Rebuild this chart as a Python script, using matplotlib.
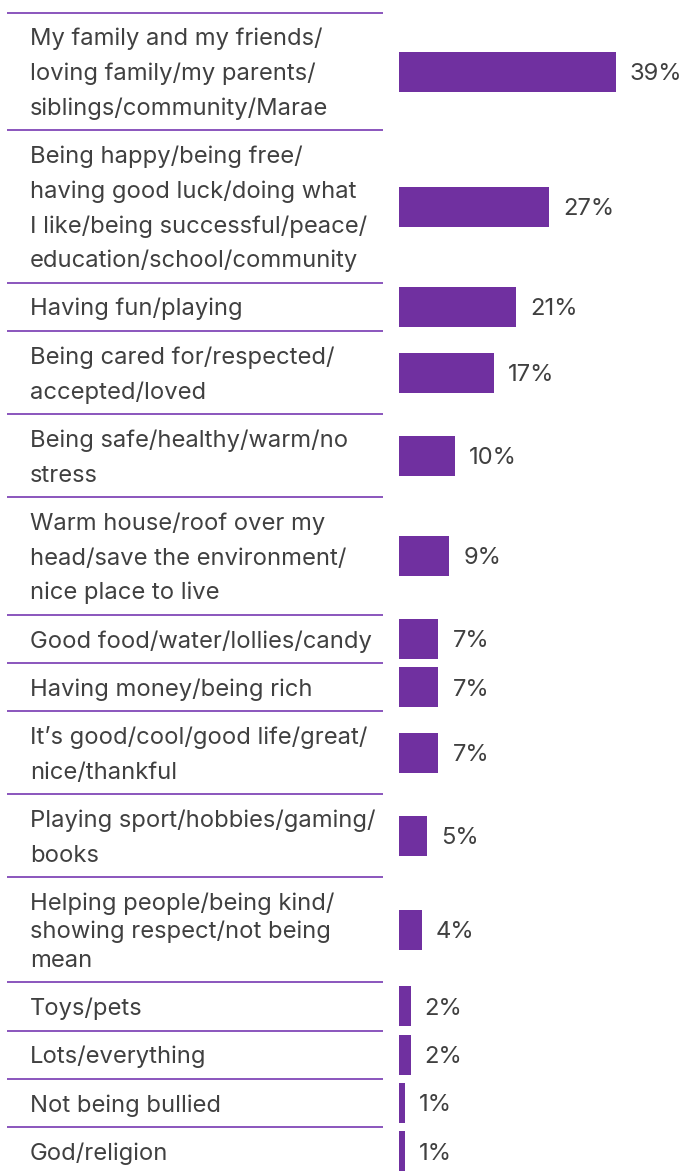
import matplotlib
matplotlib.use('Agg')
import matplotlib.pyplot as plt

labels = [
    "My family and my friends/\nloving family/my parents/\nsiblings/community/Marae",
    "Being happy/being free/\nhaving good luck/doing what\nI like/being successful/peace/\neducation/school/community",
    "Having fun/playing",
    "Being cared for/respected/\naccepted/loved",
    "Being safe/healthy/warm/no\nstress",
    "Warm house/roof over my\nhead/save the environment/\nnice place to live",
    "Good food/water/lollies/candy",
    "Having money/being rich",
    "It\u2019s good/cool/good life/great/\nnice/thankful",
    "Playing sport/hobbies/gaming/\nbooks",
    "Helping people/being kind/\nshowing respect/not being\nmean",
    "Toys/pets",
    "Lots/everything",
    "Not being bullied",
    "God/religion",
]
values = [39, 27, 21, 17, 10, 9, 7, 7, 7, 5, 4, 2, 2, 1, 1]

W, H = 683, 1173
purple = '#7030a0'
line_col = '#8a55bd'
text_col = '#404040'
plt.rcParams['font.family'] = ['Inter', 'DejaVu Sans']
fs = 17.1

fig = plt.figure(figsize=(W / 100, H / 100), dpi=100)
ax = fig.add_axes([0, 0, 1, 1])
ax.set_xlim(0, W)
ax.set_ylim(H, 0)
ax.axis('off')

# bar axes, x in percent
bar_left = 399.5
px_per_pct = 5.55
axb = fig.add_axes([bar_left / W, 0, 1 - bar_left / W, 1])
axb.set_xlim(0, (W - bar_left) / px_per_pct)
axb.set_ylim(H, 0)
axb.axis('off')

top = 12.7
centers = []
for i, lab in enumerate(labels):
    lines = lab.split('\n')
    step = 28.3 if i == 10 else 34.7
    h = 48.3 + step * (len(lines) - 1)
    ax.plot([7, 383], [top, top], color=line_col, lw=1.4, solid_capstyle='butt')
    for j, ln in enumerate(lines):
        ax.text(30, top + 32.7 + j * step, ln, fontsize=fs, color=text_col,
                va='baseline', ha='left')
    centers.append(top + h / 2)
    top += h

axb.barh(centers, values, height=40, left=0, color=purple)
for c, v in zip(centers, values):
    axb.annotate(f"{v}%", (v, c + 8.4), xytext=(10.1, 0), textcoords='offset points',
                 fontsize=fs, color=text_col, va='baseline', ha='left')

fig.savefig('out.png', dpi=100, facecolor='white')
